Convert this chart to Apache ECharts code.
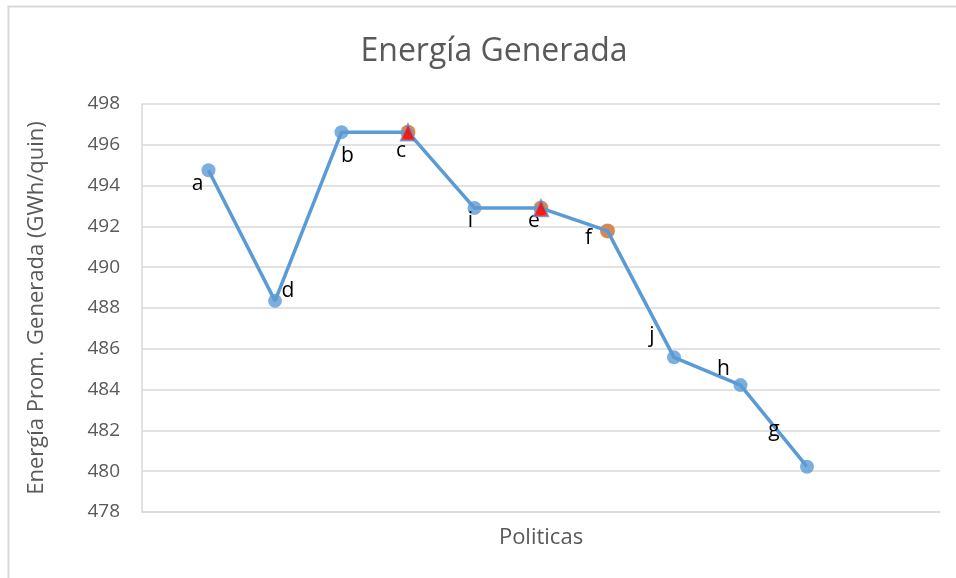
<!DOCTYPE html>
<html>
<head>
<meta charset="utf-8">
<script src="https://cdn.jsdelivr.net/npm/echarts@6/dist/echarts.min.js"></script>
<style>
  html, body { margin: 0; padding: 0; background: #fff; }
  #chart { width: 956px; height: 578px; }
</style>
</head>
<body>
<div id="chart"></div>
<script>
// policy labels in plot order
const politicas = ['a', 'd', 'b', 'c', 'i', 'e', 'f', 'j', 'h', 'g'];
const energia = [494.75, 488.35, 496.62, 496.62, 492.9, 492.9, 491.78, 485.58, 484.22, 480.22];
// label offsets (px) around each point
const labelOffsets = [[-11, 14], [13, -10], [6, 24], [-7, 19], [-4, 13], [-7, 13], [-19, 7], [-22, -21], [-17, -16], [-33, -37]];
// highlighted policies
const naranja = ['c', 'e', 'f'];
const rojo = ['c', 'e'];

const font = 'Open Sans, Noto Sans, sans-serif';
const pts = politicas.map((p, i) => [i + 1, energia[i]]);

const chart = echarts.init(document.getElementById('chart'));

const option = {
    animation: false,
    backgroundColor: '#fff',
    title: {
        text: 'Energía Generada',
        left: 489,
        top: 31,
        textAlign: 'center',
        textStyle: { fontFamily: font, fontSize: 32, fontWeight: 'normal', color: '#595959' }
    },
    graphic: [{
        type: 'rect',
        shape: { x: 8.5, y: 6.5, width: 1000, height: 700 },
        style: { fill: 'none', stroke: '#d9d9d9', lineWidth: 2 },
        silent: true
    }],
    grid: { left: 142, right: 16, top: 104, bottom: 66 },
    xAxis: {
        type: 'value',
        min: 0,
        max: 12,
        name: 'Politicas',
        nameLocation: 'middle',
        nameGap: 15,
        nameTextStyle: { fontFamily: font, fontSize: 22, color: '#595959' },
        axisLine: { show: true, lineStyle: { color: '#d9d9d9', width: 1.5 } },
        axisTick: { show: false },
        axisLabel: { show: false },
        splitLine: { show: false }
    },
    yAxis: {
        type: 'value',
        min: 478,
        max: 498,
        interval: 2,
        name: 'Energía Prom. Generada (GWh/quin)',
        nameLocation: 'middle',
        nameGap: 94,
        nameTextStyle: { fontFamily: font, fontSize: 22, color: '#595959' },
        axisLine: { show: true, lineStyle: { color: '#d9d9d9', width: 1.5 } },
        axisTick: { show: false },
        axisLabel: { fontFamily: font, fontSize: 19, color: '#595959', margin: 22 },
        splitLine: { show: true, lineStyle: { color: '#d9d9d9', width: 1.5 } }
    },
    series: [
        {
            type: 'scatter',
            data: pts,
            symbol: 'circle',
            symbolSize: 14,
            itemStyle: { color: '#5b9bd5' },
            z: 2
        },
        {
            type: 'scatter',
            data: pts.filter((d, i) => naranja.includes(politicas[i])),
            symbol: 'circle',
            symbolSize: 15,
            itemStyle: { color: '#ed7d31' },
            z: 3
        },
        {
            type: 'scatter',
            data: pts.filter((d, i) => rojo.includes(politicas[i])),
            symbol: 'triangle',
            symbolSize: [15, 17],
            itemStyle: { color: '#ff0000', borderColor: '#5b9bd5', borderWidth: 1.5 },
            z: 6
        },
        {
            type: 'line',
            data: pts.map((d, i) => ({
                value: d,
                label: {
                    show: true,
                    formatter: politicas[i],
                    position: 'inside',
                    offset: labelOffsets[i],
                    fontFamily: font,
                    fontSize: 21,
                    color: '#000'
                }
            })),
            showSymbol: true,
            symbol: 'circle',
            symbolSize: 1,
            itemStyle: { color: 'rgba(0,0,0,0)' },
            lineStyle: { color: '#5b9bd5', width: 3.5 },
            z: 5
        }
    ]
};

chart.setOption(option);
</script>
</body>
</html>
